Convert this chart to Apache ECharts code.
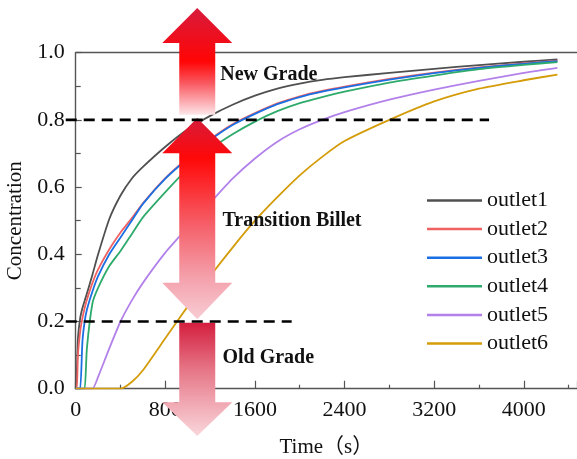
<!DOCTYPE html>
<html>
<head>
<meta charset="utf-8">
<script src="https://cdn.jsdelivr.net/npm/echarts@6/dist/echarts.min.js"></script>
<style>html,body{margin:0;padding:0;background:#fff}#c{width:577px;height:459px}</style>
</head>
<body>
<div id="c"></div>
<script>
const times   = [0, 10, 20, 40, 60, 80, 100, 150, 200, 300, 400, 500, 600, 800, 1000, 1200, 1400, 1600, 1800, 2000, 2200, 2400, 2800, 3200, 3600, 4000, 4300];
const outlet1 = [0, 0.05, 0.15, 0.21, 0.24, 0.262, 0.283, 0.34, 0.40, 0.505, 0.575, 0.625, 0.66, 0.72, 0.772, 0.812, 0.845, 0.872, 0.893, 0.908, 0.919, 0.927, 0.94, 0.952, 0.963, 0.973, 0.98];
const outlet2 = [0, 0, 0.10, 0.17, 0.21, 0.24, 0.265, 0.315, 0.355, 0.415, 0.465, 0.507, 0.552, 0.627, 0.687, 0.742, 0.787, 0.82, 0.849, 0.87, 0.886, 0.899, 0.922, 0.941, 0.956, 0.968, 0.976];
const outlet3 = [0, 0, 0, 0, 0.14, 0.20, 0.235, 0.29, 0.335, 0.40, 0.45, 0.50, 0.55, 0.625, 0.685, 0.74, 0.785, 0.818, 0.847, 0.868, 0.884, 0.897, 0.92, 0.939, 0.955, 0.967, 0.975];
const outlet4 = [0, 0, 0, 0, 0, 0, 0.12, 0.255, 0.30, 0.365, 0.41, 0.46, 0.51, 0.585, 0.655, 0.712, 0.757, 0.795, 0.826, 0.85, 0.868, 0.884, 0.911, 0.932, 0.951, 0.964, 0.972];
const outlet5 = [0, 0, 0, 0, 0, 0, 0, 0, 0.035, 0.12, 0.20, 0.262, 0.315, 0.405, 0.48, 0.553, 0.625, 0.685, 0.735, 0.772, 0.8, 0.823, 0.86, 0.89, 0.916, 0.94, 0.955];
const outlet6 = [0, 0, 0, 0, 0, 0, 0, 0, 0, 0, 0, 0.02, 0.055, 0.15, 0.245, 0.335, 0.42, 0.50, 0.57, 0.635, 0.69, 0.737, 0.80, 0.855, 0.893, 0.918, 0.935];
const seriesNames = ['outlet1', 'outlet2', 'outlet3', 'outlet4', 'outlet5', 'outlet6'];
const seriesValues = [outlet1, outlet2, outlet3, outlet4, outlet5, outlet6];
const colors = ['#505050', '#f06262', '#1a6fe3', '#2eaa6c', '#b381ea', '#d39c08'];
const xTicks = [0, 800, 1600, 2400, 3200, 4000];
const yTicks = [0.0, 0.2, 0.4, 0.6, 0.8, 1.0];
// threshold dashed lines: [level, startTime, endTime]
const newGradeLine = [0.8, -89, 3690];
const oldGradeLine = [0.2, -89, 1928];
// annotation arrows (time of centre, concentration levels)
const arrowTime = 1085;
const upArrow = [1.133, 1.029, 0.815];            // tip, head base, tail
const dblArrow = [0.806, 0.701, 0.315, 0.207];    // top tip, top base, bottom base, bottom tip
const downArrow = [0.196, -0.04, -0.141];         // tail, head base, tip
const labels = [['New Grade', 1290, 0.933], ['Transition Billet', 1310, 0.499], ['Old Grade', 1310, 0.092]];

const FONT = "'Liberation Serif', 'Times New Roman', 'Noto Sans CJK SC', serif";
const chart = echarts.init(document.getElementById('c'), null, {renderer: 'canvas'});

const lineSeries = seriesNames.map((n, i) => ({
  name: n, type: 'line', showSymbol: false, symbol: 'none',
  smooth: 0.2,
  data: times.map((t, k) => [t, seriesValues[i][k]]),
  lineStyle: {color: colors[i], width: 1.8, join: 'round'}, itemStyle: {color: colors[i]}, z: 3
}));
const xMax = 4475;
chart.setOption({
  animation: false,
  grid: {left: 75.7, right: 0, top: 52.7, bottom: 70.3, containLabel: false, outerBoundsMode: 'none'},
  legend: {
    data: seriesNames, orient: 'vertical', left: 427, top: 189.5, padding: 0,
    itemWidth: 55, itemHeight: 2.5, itemGap: 6.6, icon: 'rect',
    textStyle: {fontFamily: FONT, fontSize: 22, color: '#111', lineHeight: 22}
  },
  xAxis: [{
    type: 'value', min: 0, max: xMax, interval: 800,
    name: 'Time（s）', nameLocation: 'middle', nameGap: 48,
    nameTextStyle: {fontFamily: FONT, fontSize: 21, color: '#111'},
    axisLine: {show: true, lineStyle: {color: '#555', width: 1.4}},
    axisTick: {show: true, inside: true, length: 8, lineStyle: {color: '#555', width: 1.2}},
    minorTick: {show: true, splitNumber: 2, length: 4, lineStyle: {color: '#555', width: 1.2}},
    splitLine: {show: false},
    axisLabel: {fontFamily: FONT, fontSize: 22, color: '#111', margin: 11,
      formatter: v => xTicks.indexOf(v) >= 0 ? String(v) : ''}
  }, {
    type: 'value', position: 'top', min: 0, max: xMax,
    axisLine: {show: true, lineStyle: {color: '#555', width: 1.4}},
    axisTick: {show: false}, axisLabel: {show: false}, splitLine: {show: false}
  }],
  yAxis: {
    type: 'value', min: 0, max: 1, interval: 0.2,
    name: 'Concentration', nameLocation: 'middle', nameGap: 47,
    nameTextStyle: {fontFamily: FONT, fontSize: 21, color: '#111'},
    axisLine: {show: true, lineStyle: {color: '#555', width: 1.4}},
    axisTick: {show: true, inside: true, length: 6, lineStyle: {color: '#555', width: 1.2}},
    minorTick: {show: true, splitNumber: 2, length: 5, lineStyle: {color: '#555', width: 1.2}},
    splitLine: {show: false},
    axisLabel: {fontFamily: FONT, fontSize: 22, color: '#111', margin: 11,
      formatter: v => yTicks.some(t => Math.abs(t - v) < 1e-9) ? v.toFixed(1) : ''}
  },
  series: lineSeries
});

function px(t, c) { return chart.convertToPixel({xAxisIndex: 0, yAxisIndex: 0}, [t, c]); }
function grad(stops) {
  return new echarts.graphic.LinearGradient(0, 0, 0, 1, stops.map(s => ({offset: s[0], color: s[1]})));
}
const SH = 18, HH = 35;
const cx = px(arrowTime, 0)[0];
const Y = c => px(arrowTime, c)[1];
const up = upArrow.map(Y), dbl = dblArrow.map(Y), dn = downArrow.map(Y);
const graphics = [
  {type: 'polygon', z: 50, shape: {points: [[cx, up[0]], [cx + HH, up[1]], [cx + SH, up[1]], [cx + SH, up[2]], [cx - SH, up[2]], [cx - SH, up[1]], [cx - HH, up[1]]]},
    style: {fill: grad([[0, '#d81b3c'], [0.5, '#ff0505'], [0.7, '#f9575f'], [1, '#fde6e9']])}},
  {type: 'polygon', z: 50, shape: {points: [[cx, dbl[0]], [cx + HH, dbl[1]], [cx + SH, dbl[1]], [cx + SH, dbl[2]], [cx + HH, dbl[2]], [cx, dbl[3]], [cx - HH, dbl[2]], [cx - SH, dbl[2]], [cx - SH, dbl[1]], [cx - HH, dbl[1]]]},
    style: {fill: grad([[0, '#d61c3a'], [0.2, '#ff0808'], [0.55, '#f5646e'], [0.8, '#f4a2ad'], [1, '#f8ccd3']])}},
  {type: 'polygon', z: 50, shape: {points: [[cx - SH, dn[0]], [cx + SH, dn[0]], [cx + SH, dn[1]], [cx + HH, dn[1]], [cx, dn[2]], [cx - HH, dn[1]], [cx - SH, dn[1]]]},
    style: {fill: grad([[0, '#d41f3f'], [0.4, '#e57384'], [0.7, '#f0a6b1'], [1, '#f9d6db']])}}
];
[newGradeLine, oldGradeLine].forEach(d => {
  const a = px(d[1], d[0]), b = px(d[2], d[0]);
  graphics.push({type: 'line', z: 80, shape: {x1: a[0], y1: a[1], x2: b[0], y2: b[1]},
    style: {stroke: '#000', lineWidth: 2.6, lineDash: [11, 7]}});
});
labels.forEach(l => {
  const p = px(l[1], l[2]);
  graphics.push({type: 'text', z: 60, x: p[0], y: p[1],
    style: {text: l[0], fill: '#111', font: "bold 20px 'Liberation Serif', 'Times New Roman', serif", textAlign: 'left', textVerticalAlign: 'middle'}});
});
chart.setOption({graphic: graphics});
</script>
</body>
</html>
